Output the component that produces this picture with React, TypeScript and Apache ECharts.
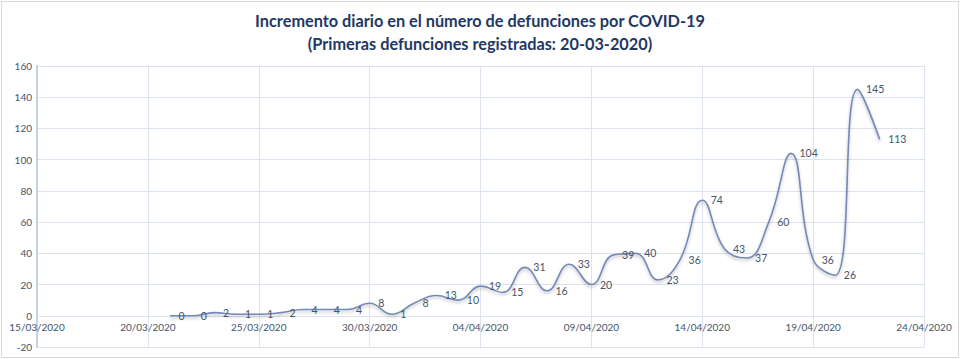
import React, { useEffect, useRef } from "react";
import * as echarts from "echarts";

const titleLines = [
  "Incremento diario en el número de defunciones por COVID-19",
  "(Primeras defunciones registradas: 20-03-2020)",
];

const dates = [
  "21/03/2020", "22/03/2020", "23/03/2020", "24/03/2020", "25/03/2020",
  "26/03/2020", "27/03/2020", "28/03/2020", "29/03/2020", "30/03/2020",
  "31/03/2020", "01/04/2020", "02/04/2020", "03/04/2020", "04/04/2020",
  "05/04/2020", "06/04/2020", "07/04/2020", "08/04/2020", "09/04/2020",
  "10/04/2020", "11/04/2020", "12/04/2020", "13/04/2020", "14/04/2020",
  "15/04/2020", "16/04/2020", "17/04/2020", "18/04/2020", "19/04/2020",
  "20/04/2020", "21/04/2020", "22/04/2020",
];

const deaths = [
  0, 0, 2, 1, 1, 2, 4, 4, 4, 8, 1, 8, 13, 10, 19, 15, 31, 16, 33, 20, 39, 40,
  23, 36, 74, 43, 37, 60, 104, 36, 26, 145, 113,
];

const xTickLabels = [
  "15/03/2020", "20/03/2020", "25/03/2020", "30/03/2020", "04/04/2020",
  "09/04/2020", "14/04/2020", "19/04/2020", "24/04/2020",
];

const yTicks = [-20, 0, 20, 40, 60, 80, 100, 120, 140, 160];

const toUTC = (s: string) => {
  const [d, m, y] = s.split("/").map(Number);
  return Date.UTC(y, m - 1, d);
};
const base = toUTC(xTickLabels[0]);
const dayIndex = (s: string) => Math.round((toUTC(s) - base) / 86400000);
const xStep = dayIndex(xTickLabels[1]);
const xMax = dayIndex(xTickLabels[xTickLabels.length - 1]);

const W = 960;
const H = 359;
const GRID = { left: 37, right: 36, top: 66, bottom: 12 };

export default function App() {
  const ref = useRef<HTMLDivElement>(null);
  useEffect(() => {
    if (!ref.current) return;
    const chart = echarts.init(ref.current, undefined, { renderer: "svg" });
    const textColor = "#44546a";
    const gridColor = "#dde3ee";
    const yMin = yTicks[0];
    const yMax = yTicks[yTicks.length - 1];
    const plotH = H - GRID.top - GRID.bottom;
    const zeroOffset = ((0 - yMin) / (yMax - yMin)) * plotH;
    chart.setOption({
      animation: false,
      backgroundColor: "#ffffff",
      graphic: [
        {
          type: "rect",
          shape: { x: 1.5, y: 1.5, width: W - 3, height: H - 3 },
          style: { fill: "none", stroke: "#d9d9d9", lineWidth: 1 },
          silent: true,
        },
      ],
      title: {
        text: titleLines.join("\n"),
        left: "center",
        top: 4,
        textStyle: {
          fontFamily: "Lato",
          fontWeight: "bold",
          fontSize: 16.3,
          lineHeight: 23,
          color: "#1f3864",
        },
      },
      grid: { ...GRID, containLabel: false },
      xAxis: {
        type: "value",
        min: 0,
        max: xMax,
        interval: xStep,
        offset: -zeroOffset,
        axisLine: { onZero: false, lineStyle: { color: gridColor, width: 1 } },
        axisTick: { show: false },
        splitLine: { show: true, lineStyle: { color: gridColor, width: 1 } },
        axisLabel: {
          color: textColor,
          fontFamily: "Lato",
          fontSize: 10,
          margin: 6,
          formatter: (v: number) => xTickLabels[Math.round(v / xStep)] ?? "",
        },
      },
      yAxis: {
        type: "value",
        min: yMin,
        max: yMax,
        interval: yTicks[1] - yTicks[0],
        axisLine: { show: true, onZero: false, lineStyle: { color: "#c5d0e3", width: 2 } },
        axisTick: { show: false },
        splitLine: { show: true, lineStyle: { color: gridColor, width: 1 } },
        axisLabel: {
          color: textColor,
          fontFamily: "Lato",
          fontSize: 10,
          margin: 5,
        },
      },
      series: [
        {
          type: "line",
          data: dates.map((d, i) => [dayIndex(d), deaths[i]]),
          smooth: 0.45,
          showSymbol: true,
          symbol: "circle",
          symbolSize: 1,
          itemStyle: { color: "rgba(0,0,0,0)" },
          lineStyle: {
            color: "#7489b8",
            width: 1.6,
            shadowColor: "rgba(0,0,0,0.25)",
            shadowBlur: 3,
            shadowOffsetY: 2,
          },
          label: {
            show: true,
            position: "right",
            distance: 8,
            color: textColor,
            fontFamily: "Lato",
            fontSize: 10.5,
          },
          labelLayout: { hideOverlap: false },
        },
      ],
    });
    return () => chart.dispose();
  }, []);
  return (
    <div
      ref={ref}
      style={{ width: W, height: H, position: "absolute", left: 0, top: 0 }}
    />
  );
}
